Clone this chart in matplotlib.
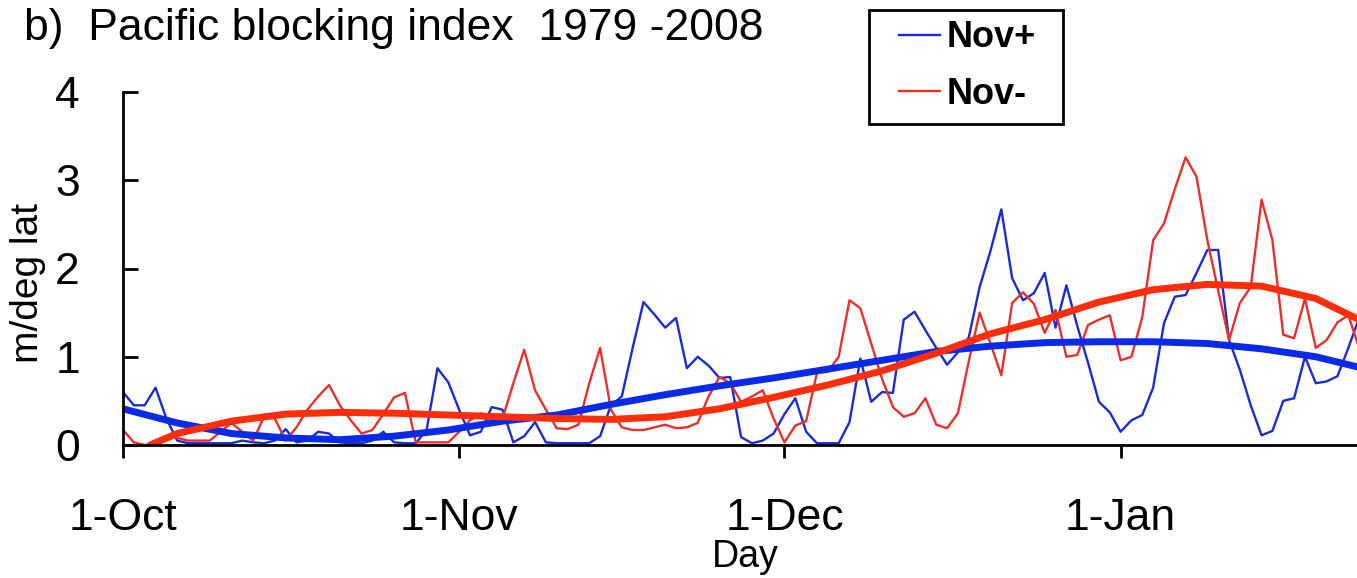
import numpy as np
import matplotlib.pyplot as plt
from matplotlib.patches import Rectangle

# дни от 1 октября
nov_plus = [0.60, 0.45, 0.45, 0.65, 0.30, 0.05, 0.02, 0.02, 0.02, 0.02,
            0.02, 0.05, 0.03, 0.02, 0.05, 0.18, 0.03, 0.05, 0.15, 0.13,
            0.03, 0.02, 0.02, 0.05, 0.15, 0.03, 0.02, 0.02, 0.17, 0.87,
            0.71, 0.40, 0.11, 0.15, 0.43, 0.40, 0.03, 0.10, 0.26, 0.03,
            0.02, 0.02, 0.02, 0.02, 0.10, 0.45, 0.55, 1.10, 1.62, 1.48,
            1.33, 1.44, 0.87, 1.00, 0.90, 0.76, 0.77, 0.09, 0.02, 0.05,
            0.13, 0.35, 0.53, 0.15, 0.02, 0.02, 0.02, 0.26, 0.98, 0.49,
            0.60, 0.59, 1.42, 1.51, 1.30, 1.10, 0.91, 1.05, 1.22, 1.79,
            2.20, 2.67, 1.89, 1.64, 1.72, 1.95, 1.33, 1.81, 1.35, 0.93,
            0.49, 0.37, 0.15, 0.28, 0.34, 0.65, 1.38, 1.68, 1.70, 1.95,
            2.21, 2.21, 1.19, 0.85, 0.45, 0.11, 0.16, 0.50, 0.53, 1.00,
            0.70, 0.72, 0.78, 1.10, 1.44]

nov_minus = [0.17, 0.03, 0.00, 0.00, 0.10, 0.08, 0.05, 0.05, 0.05, 0.15,
             0.25, 0.15, 0.05, 0.32, 0.30, 0.05, 0.20, 0.40, 0.55, 0.68,
             0.45, 0.28, 0.13, 0.17, 0.35, 0.54, 0.59, 0.03, 0.03, 0.03,
             0.03, 0.15, 0.28, 0.36, 0.30, 0.30, 0.70, 1.08, 0.62, 0.40,
             0.19, 0.18, 0.23, 0.70, 1.10, 0.40, 0.20, 0.17, 0.17, 0.20,
             0.23, 0.19, 0.20, 0.25, 0.55, 0.77, 0.70, 0.49, 0.55, 0.62,
             0.30, 0.03, 0.22, 0.27, 0.82, 0.83, 1.00, 1.64, 1.55, 1.15,
             0.75, 0.43, 0.32, 0.36, 0.53, 0.23, 0.19, 0.36, 0.95, 1.50,
             1.15, 0.79, 1.61, 1.73, 1.60, 1.27, 1.53, 1.00, 1.02, 1.36,
             1.42, 1.47, 0.96, 1.00, 1.45, 2.32, 2.51, 2.90, 3.26, 3.04,
             2.32, 1.75, 1.19, 1.61, 1.79, 2.78, 2.32, 1.25, 1.21, 1.66,
             1.10, 1.19, 1.39, 1.47, 1.10]

# сглаженные кривые (узлы через 5 дней)
smooth_days_plus = [0, 5, 10, 15, 20, 25, 30, 35, 40, 45, 50, 55, 60, 65,
                    70, 75, 80, 85, 90, 95, 100, 105, 110, 114]
smooth_plus = [0.41, 0.25, 0.13, 0.08, 0.06, 0.10, 0.17, 0.27, 0.34, 0.46,
               0.57, 0.67, 0.76, 0.86, 0.96, 1.06, 1.12, 1.16, 1.17, 1.17,
               1.15, 1.09, 1.00, 0.88]

smooth_days_minus = [2.5, 5, 10, 15, 20, 25, 30, 35, 40, 45, 50, 55, 60, 65,
                     70, 75, 80, 85, 90, 95, 100, 105, 110, 114]
smooth_minus = [0.00, 0.13, 0.27, 0.35, 0.37, 0.36, 0.34, 0.32, 0.30, 0.29,
                0.32, 0.41, 0.54, 0.68, 0.84, 1.04, 1.26, 1.42, 1.62, 1.76,
                1.82, 1.80, 1.66, 1.42]

tick_days = [0, 31, 61, 92]
tick_labels = ['1-Oct', '1-Nov', '1-Dec', '1-Jan']

plt.rcParams['font.family'] = ['Liberation Sans', 'DejaVu Sans']

W, H = 1357, 578
fig = plt.figure(figsize=(W / 100, H / 100), dpi=100)
ax = fig.add_axes([123 / W, 133 / H, 1234 / W, 353 / H])

days = np.arange(len(nov_plus))
ax.plot(days, nov_plus, color='#1a2bd6', lw=1.7, label='Nov+')
ax.plot(days, nov_minus, color='#e8302a', lw=1.7, label='Nov-')
ax.plot(smooth_days_plus, smooth_plus, color='#0a2ae6', lw=5, solid_capstyle='round')
ax.plot(smooth_days_minus, smooth_minus, color='#ff2d0a', lw=5, solid_capstyle='round')

ax.set_xlim(0, 113.8)
ax.set_ylim(0, 4)
ax.set_yticks([0, 1, 2, 3, 4])
ax.set_xticks(tick_days)
ax.set_xticklabels(tick_labels)

for s in ['top', 'right']:
    ax.spines[s].set_visible(False)
for s in ['left', 'bottom']:
    ax.spines[s].set_linewidth(2)
ax.tick_params(axis='y', direction='in', length=11, width=2, labelsize=32, pad=31)
ax.tick_params(axis='x', direction='out', length=9, width=2, labelsize=32, pad=29)

ax.set_ylabel('m/deg lat', fontsize=28)
ax.yaxis.set_label_coords(-0.062, 0.46)
ax.set_xlabel('Day', fontsize=27)
ax.xaxis.set_label_coords(0.504, -0.265)

fig.text(24 / W, 1 - 40 / H, 'b)  Pacific blocking index  1979 -2008',
         fontsize=32, ha='left', va='baseline')

# легенда: рамка отдельно, чтобы совпали поля
fig.patches.append(Rectangle((869 / W, 1 - 124 / H), 194 / W, 114 / H,
                             transform=fig.transFigure, fill=False,
                             edgecolor='black', lw=2))
leg = fig.legend(loc='center', bbox_to_anchor=(967 / W, 1 - 66 / H),
                 prop={'weight': 'bold', 'size': 26},
                 handlelength=1.15, handletextpad=0.17, borderpad=0,
                 labelspacing=0.6, frameon=False)

fig.savefig('out.png', dpi=100)
